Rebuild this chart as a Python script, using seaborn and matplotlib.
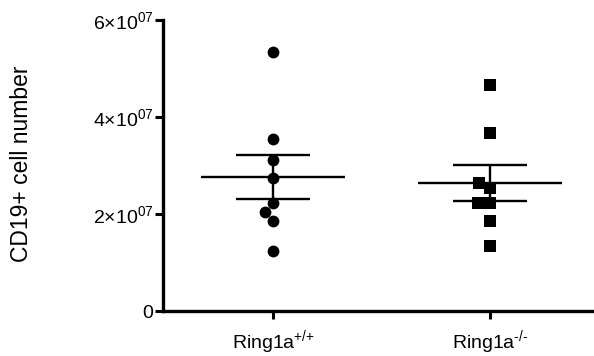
import numpy as np
import pandas as pd
import matplotlib
matplotlib.use("Agg")
import matplotlib.pyplot as plt
import seaborn as sns

groups = ["Ring1a+/+", "Ring1a-/-"]
wt_values = [53.3e6, 35.4e6, 31.1e6, 27.5e6, 22.3e6, 20.4e6, 18.6e6, 12.4e6]
ko_values = [46.6e6, 36.8e6, 26.4e6, 25.4e6, 22.2e6, 22.3e6, 18.6e6, 13.4e6]
xtick_labels = [r"Ring1a$^{\text{+/+}}$", r"Ring1a$^{\text{-/-}}$"]
ytick_values = [0, 2e7, 4e7, 6e7]
ytick_labels = ["0", r"2×10$^{07}$", r"4×10$^{07}$", r"6×10$^{07}$"]
ylabel = "CD19+ cell number"

sns.set_style("white")
plt.rcParams["font.family"] = ["Liberation Sans", "DejaVu Sans"]
plt.rcParams["mathtext.fontset"] = "custom"
plt.rcParams["mathtext.rm"] = "Liberation Sans"
plt.rcParams["mathtext.it"] = "Liberation Sans:italic"
plt.rcParams["mathtext.default"] = "regular"
plt.rcParams["text.color"] = "black"
plt.rcParams["axes.labelcolor"] = "black"
plt.rcParams["xtick.color"] = "black"
plt.rcParams["ytick.color"] = "black"

df = pd.DataFrame({
    "group": [groups[0]] * len(wt_values) + [groups[1]] * len(ko_values),
    "value": wt_values + ko_values,
})

fig = plt.figure(figsize=(5.94, 3.56), dpi=100)
ax = fig.add_axes([163 / 594, 1 - 311 / 356, 1 - 163 / 594, (311 - 20) / 356])

for g, mk in zip(groups, ["o", "s"]):
    sub = df[df.group == g]
    sns.swarmplot(data=sub, x="group", y="value", order=groups, marker=mk,
                  color="black", size=8.5, ax=ax, linewidth=0)

lw = 1.7
for i, vals in enumerate([wt_values, ko_values]):
    v = np.array(vals)
    m = v.mean()
    se = v.std(ddof=1) / np.sqrt(len(v))
    ax.hlines(m, i - 0.332, i + 0.332, color="black", lw=lw, zorder=5)
    ax.hlines([m - se, m + se], i - 0.17, i + 0.17, color="black", lw=lw, zorder=5)
    ax.vlines(i, m - se, m + se, color="black", lw=lw, zorder=5)

ax.set_xlim(-0.507, 1.479)
ax.set_ylim(0, 6e7)
ax.set_yticks(ytick_values)
ax.set_yticklabels(ytick_labels)
ax.set_xticks([0, 1])
ax.set_xticklabels(xtick_labels)
ax.set_xlabel("")
ax.set_ylabel(ylabel, fontsize=16.5)
ax.yaxis.set_label_coords(-0.302, 0.507)

for s in ["top", "right"]:
    ax.spines[s].set_visible(False)
for s in ["left", "bottom"]:
    ax.spines[s].set_linewidth(2.4)
    ax.spines[s].set_color("black")
ax.tick_params(axis="both", which="major", length=6, width=2.2, color="black",
               labelcolor="black", labelsize=14, pad=1, direction="out",
               left=True, bottom=True)
ax.tick_params(axis="x", pad=6)

fig.savefig("out.png", dpi=100)
